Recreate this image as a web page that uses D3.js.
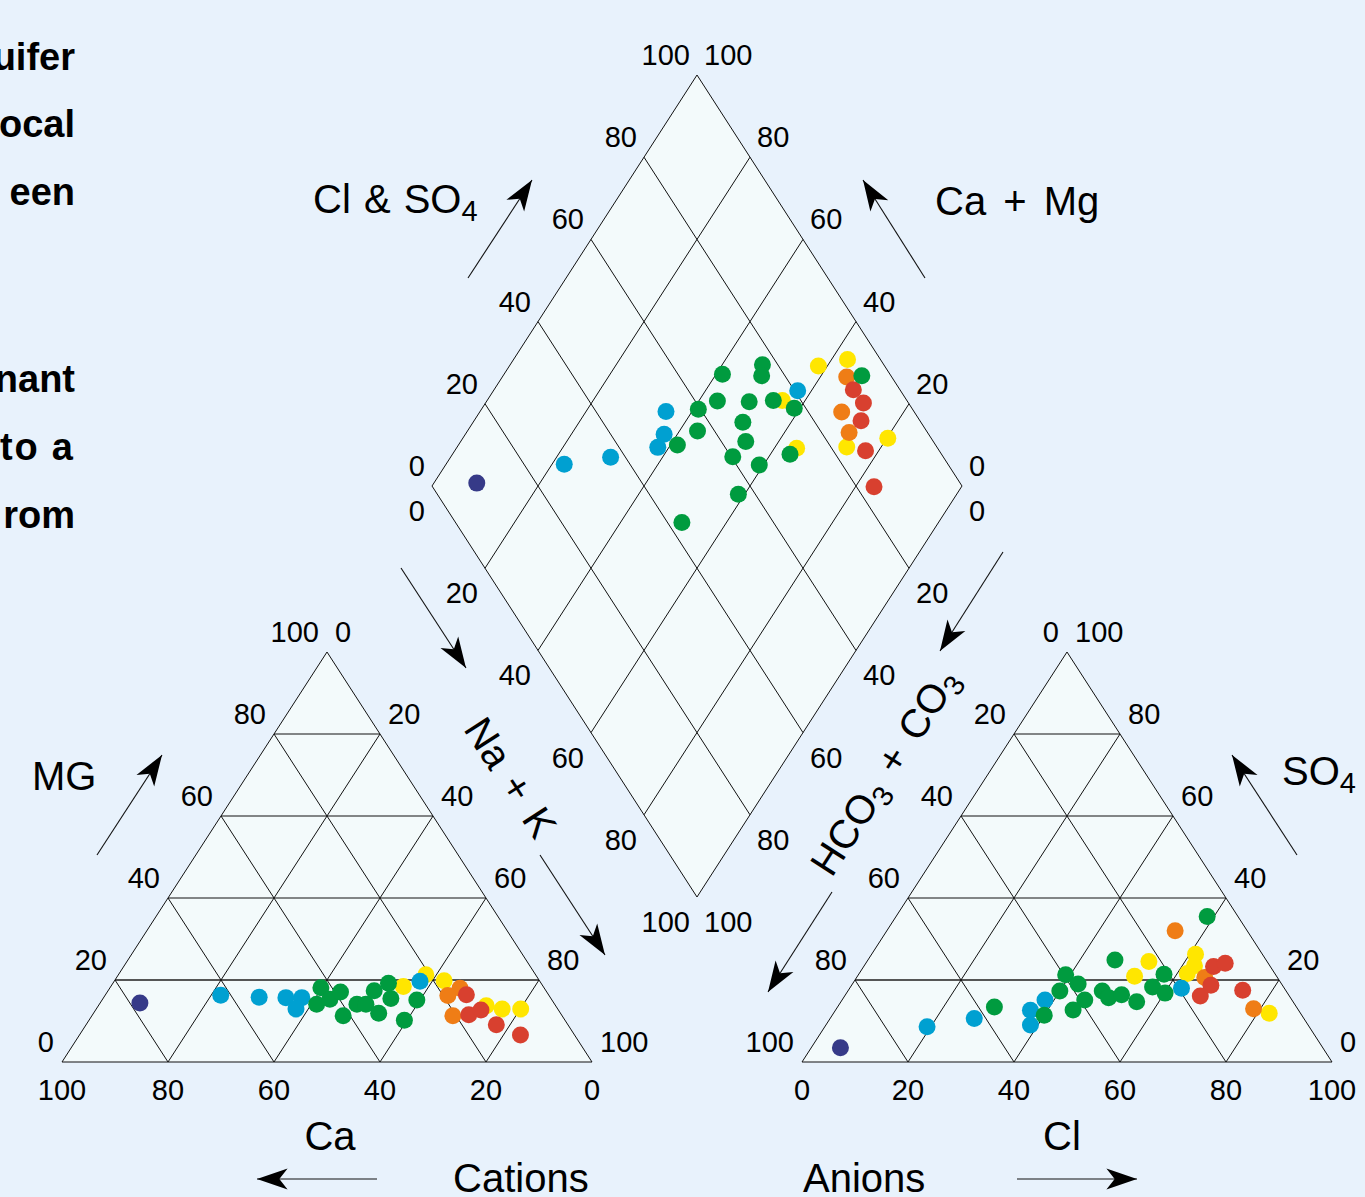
<!DOCTYPE html>
<html><head><meta charset="utf-8">
<script src="https://cdn.jsdelivr.net/npm/d3@7"></script>
<style>
html,body{margin:0;padding:0;background:#e8f2fc;overflow:hidden;}
svg{display:block;}
text{font-family:"Liberation Sans",Arial,Helvetica,sans-serif;fill:#000;}
</style></head><body>
<svg id="c" width="1365" height="1197"></svg>
<script>
// ---------- data ----------
const groupColors = {navy:"#363a88", blue:"#00a0d1", green:"#009b3f", yellow:"#ffe600", orange:"#ef7d16", red:"#d8402f"};
const drawOrder = ["yellow","orange","red","blue","green","navy"];
const tickValues = [0,20,40,60,80,100];
const gridValues = [20,40,60,80];
const sideText = ["uifer","ocal","een","nant","to a","rom"];

// cation triangle: [group, Mg %, Na+K %]  (Ca = 100 - Mg - Na+K)
const cationPts = [
 ["navy",14.4,7.5],
 ["blue",16.3,21.8],["blue",15.8,29.3],["blue",15.7,34.4],["blue",15.7,37.4],["blue",12.9,37.7],["blue",19.7,57.7],
 ["green",18.1,39.8],["green",14.1,41.0],["green",15.3,42.9],["green",17.1,44.0],["green",11.3,47.4],["green",14.1,48.6],
 ["green",14.1,50.3],["green",17.4,50.2],["green",11.9,53.8],["green",19.2,52.0],["green",15.5,54.3],["green",10.2,59.5],["green",15.1,59.4],
 ["yellow",18.4,55.2],["yellow",21.3,58.0],["yellow",19.8,62.2],["yellow",13.7,73.2],["yellow",12.9,76.6],["yellow",12.9,80.1],
 ["orange",18.0,66.1],["orange",16.2,64.7],["orange",11.3,68.1],
 ["red",16.4,68.1],["red",11.5,71.0],["red",12.7,72.7],["red",9.1,77.4],["red",6.6,83.2]
];
// anion triangle: [group, SO4 %, Cl %]  (HCO3 = 100 - SO4 - Cl)
const anionPts = [
 ["navy",3.5,5.5],
 ["blue",8.6,19.3],["blue",10.6,27.2],["blue",12.6,36.8],["blue",9.0,38.6],["blue",15.1,38.3],["blue",18.0,62.6],
 ["green",13.4,29.6],["green",11.4,40.0],["green",17.3,40.0],["green",21.3,39.1],["green",19.0,42.6],["green",15.1,45.8],
 ["green",12.7,44.8],["green",17.3,48.0],["green",15.7,50.0],["green",16.4,52.1],["green",14.7,55.8],["green",24.9,46.6],
 ["green",21.4,57.6],["green",18.3,57.0],["green",16.8,60.1],["green",35.5,58.7],
 ["yellow",20.9,52.3],["yellow",24.5,53.2],["yellow",26.3,61.1],["yellow",23.5,62.3],["yellow",21.6,61.9],["yellow",11.9,82.2],
 ["orange",20.6,65.7],["orange",13.0,78.7],["orange",32.0,54.4],
 ["red",23.3,66.0],["red",24.1,67.8],["red",18.7,67.8],["red",16.1,67.1],["red",17.5,74.4]
];
// diamond: [group, Na+K %, Cl+SO4 %]
const diamondPts = [
 ["navy",8.1,8.8],
 ["blue",22.3,27.6],["blue",30.2,37.2],["blue",35.1,53.2],["blue",37.5,50.1],["blue",37.9,47.3],["blue",57.4,80.6],
 ["green",41.3,51.3],["green",40.9,59.6],["green",43.4,56.8],["green",41.2,68.4],["green",43.5,64.2],["green",47.6,77.1],
 ["green",48.8,75.6],["green",49.6,70.1],["green",50.9,66.4],["green",53.8,64.6],["green",53.2,60.3],["green",58.8,56.8],
 ["green",51.6,42.7],["green",59.2,64.3],["green",54.0,74.8],["green",58.9,77.8],["green",63.7,71.4],["green",67.7,94.5],
 ["yellow",55.7,76.5],["yellow",64.2,73.4],["yellow",58.3,87.5],["yellow",63.0,93.8],["yellow",73.5,83.0],["yellow",80.2,91.8],
 ["orange",65.0,91.5],["orange",68.3,86.3],["orange",72.2,85.2],
 ["red",67.8,91.2],["red",71.3,91.5],["red",73.0,88.9],["red",77.5,86.1],["red",83.5,83.3]
];

// ---------- layout ----------
const svg = d3.select("#c");
const TICK_FS = 29, TITLE_FS = 40, SUB_FS = 29, R = 8.5;
const fillCol = "#f3fafb";

// scales
const catX = d3.scaleLinear().domain([0,100]).range([62,592]);
const anX  = d3.scaleLinear().domain([0,100]).range([802,1332]);
const triY = d3.scaleLinear().domain([0,100]).range([1062,652]);
const diaX = d3.scaleLinear().domain([0,200]).range([432,962]);
const diaY = d3.scaleLinear().domain([-100,100]).range([75,897]);

// ternary position: q = component toward apex, p = component toward bottom-right vertex
const catPos = (q,p) => [catX(p + q/2), triY(q)];
const anPos  = (q,p) => [anX(p + q/2), triY(q)];
const diaPos = (a,b) => [diaX(a+b), diaY(a-b)];

svg.append("defs").append("marker")
  .attr("id","ah").attr("markerUnits","userSpaceOnUse")
  .attr("markerWidth",40).attr("markerHeight",40)
  .attr("viewBox","-30 -15 34 30").attr("refX",0).attr("refY",0)
  .attr("orient","auto")
  .append("path").attr("d","M0,0 L-26,-9 L-19,0 L-26,9 Z").attr("fill","#000");

const line = (g,p1,p2,stroke="#111",w=1) => g.append("line")
  .attr("x1",p1[0]).attr("y1",p1[1]).attr("x2",p2[0]).attr("y2",p2[1])
  .attr("stroke",stroke).attr("stroke-width",w);

function drawTriangle(pos){
  const g = svg.append("g");
  g.append("path").attr("d", d3.line()([pos(0,0), pos(0,100), pos(100,0)]) + "Z")
    .attr("fill",fillCol).attr("stroke","none");
  gridValues.forEach(v=>{
    if(v===20) line(g,pos(v,0),pos(v,100-v),"#555",1.8);
    else line(g,pos(v,0),pos(v,100-v));
    line(g,pos(0,v),pos(100-v,v));
    line(g,pos(0,100-v),pos(100-v,0));
  });
  g.append("path").attr("d", d3.line()([pos(0,0), pos(0,100), pos(100,0)]) + "Z")
    .attr("fill","none").attr("stroke","#111").attr("stroke-width",1);
  return g;
}
function drawDiamond(){
  const g = svg.append("g");
  const outline = d3.line()([diaPos(0,0), diaPos(0,100), diaPos(100,100), diaPos(100,0)]) + "Z";
  g.append("path").attr("d",outline).attr("fill",fillCol);
  gridValues.forEach(v=>{
    line(g,diaPos(v,0),diaPos(v,100));
    line(g,diaPos(0,v),diaPos(100,v));
  });
  g.append("path").attr("d",outline).attr("fill","none").attr("stroke","#111").attr("stroke-width",1);
}

drawTriangle(catPos);
drawTriangle(anPos);
drawDiamond();

// ---------- tick labels ----------
const lbl = svg.append("g").attr("font-size",TICK_FS);
function tl(x,y,t,anchor){ lbl.append("text").attr("x",x).attr("y",y).attr("text-anchor",anchor).text(t); }

tickValues.forEach(v=>{
  let p = catPos(0,100-v); tl(p[0], p[1]+38, v, "middle");       // Ca
  p = catPos(v,0); tl(p[0]-8, p[1]-10, v, "end");                 // Mg
  p = catPos(100-v,v); tl(p[0]+8, p[1]-10, v, "start");           // Na+K
  p = anPos(0,v); tl(p[0], p[1]+38, v, "middle");                 // Cl
  p = anPos(100-v,0); tl(p[0]-8, p[1]-10, v, "end");              // HCO3
  p = anPos(v,100-v); tl(p[0]+8, p[1]-10, v, "start");            // SO4
  p = diaPos(0,v); tl(p[0]-7, p[1]-10, v, "end");                 // Cl & SO4
  p = diaPos(100-v,100); tl(p[0]+7, p[1]-10, v, "start");         // Ca + Mg
  p = diaPos(v,0); tl(p[0]-7, p[1]+35, v, "end");                 // Na + K
  p = diaPos(100,100-v); tl(p[0]+7, p[1]+35, v, "start");         // HCO3 + CO3
});

// ---------- titles ----------
const tg = svg.append("g").attr("font-size",TITLE_FS);
function title(x,y,parts,anchor="start",rot=null,ws=0){
  const t = tg.append("text").attr("x",x).attr("y",y).attr("text-anchor",anchor)
    .attr("xml:space","preserve");
  if(ws) t.attr("word-spacing",ws);
  if(rot!==null) t.attr("transform",`rotate(${rot},${x},${y})`);
  let shift=0;
  parts.forEach(pt=>{
    const s = t.append("tspan").text(pt[0]);
    const want = pt[1] ? 8 : 0;
    if(want!==shift){ s.attr("dy", want-shift); shift=want; }
    if(pt[1]) s.attr("font-size",SUB_FS);
  });
  return t;
}
title(313,213,[["Cl & SO"],["4",1]],"start",null,2);
title(935,215,[["Ca + Mg"]],"start",null,6);
title(32,790,[["MG"]]);
title(1282,785,[["SO"],["4",1]]);
title(330,1150,[["Ca"]],"middle");
title(1043,1150,[["Cl"]]);
title(453,1192,[["Cations"]]);
title(803,1192,[["Anions"]]);
const ang = Math.atan2(411,265)*180/Math.PI;
title(499,785,[["Na + K"]],"middle",ang,5);
title(896,779,[["HCO"],["3",1],[" + CO"],["3",1]],"middle",-ang,5);

// ---------- arrows ----------
const arrows = [
 [[468,278],[532,180]],[[925,278],[863,180]],
 [[401,568],[466,668]],[[540,855],[605,955]],
 [[1003,552],[940,651]],[[832,892],[768,992]],
 [[97,855],[162,755]],[[1297,855],[1232,755]],
 [[377,1179],[257,1179]],[[1017,1179],[1137,1179]]
];
const ag = svg.append("g");
arrows.forEach(a=>{
  ag.append("line").attr("x1",a[0][0]).attr("y1",a[0][1]).attr("x2",a[1][0]).attr("y2",a[1][1])
    .attr("stroke","#111").attr("stroke-width",1.1).attr("marker-end","url(#ah)");
});

// ---------- side text (paragraph clipped by the left edge) ----------
const st = svg.append("g").attr("font-size",38).attr("font-weight","bold");
const stY = [70,137,205,392,460,528];
sideText.forEach((t,i)=>{
  const e = st.append("text").attr("y",stY[i]).text(t);
  if(t==="to a") e.attr("x",0).attr("textLength",73).attr("lengthAdjust","spacing");
  else e.attr("x",75).attr("text-anchor","end");
});

// ---------- points ----------
function drawPts(data,pos){
  const g = svg.append("g");
  const sorted = drawOrder.flatMap(k => data.filter(d=>d[0]===k));
  g.selectAll("circle").data(sorted).join("circle")
    .attr("cx",d=>pos(d[1],d[2])[0]).attr("cy",d=>pos(d[1],d[2])[1])
    .attr("r",R).attr("fill",d=>groupColors[d[0]]);
}
drawPts(cationPts,catPos);
drawPts(anionPts,anPos);
drawPts(diamondPts,diaPos);
</script>
</body></html>
